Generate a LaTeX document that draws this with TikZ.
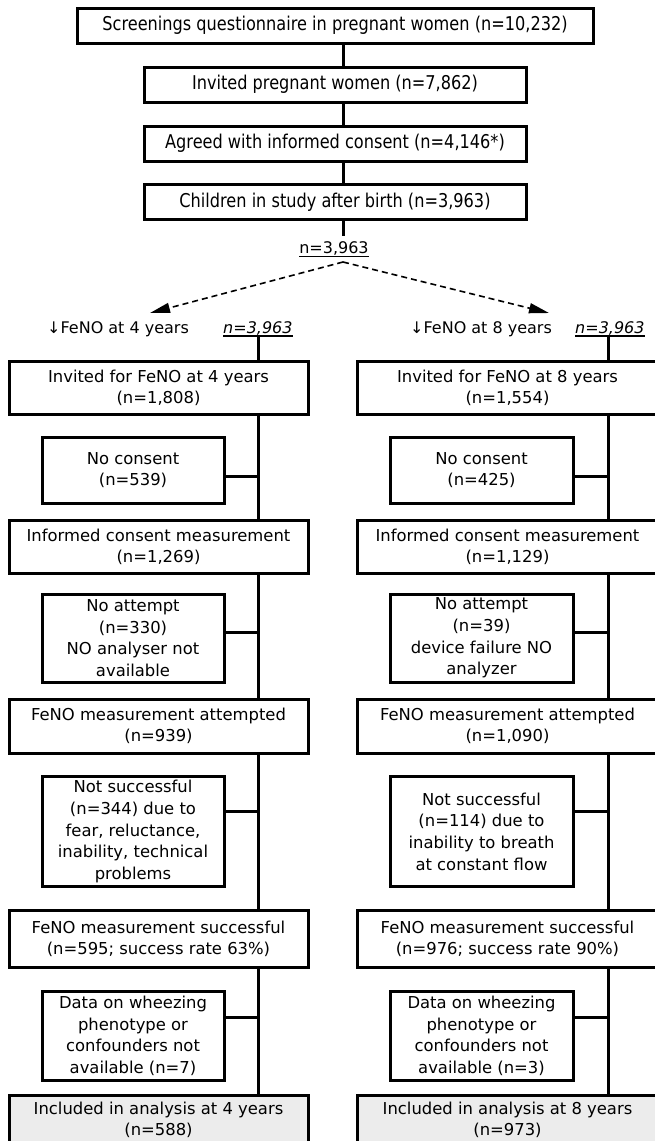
\documentclass[tikz,border=0pt]{standalone}
\usepackage{fontspec}
\setmainfont{DejaVu Sans}
\newfontfamily\condfont[FakeStretch=0.85]{DejaVu Sans}
\usetikzlibrary{arrows.meta,calc}
\definecolor{inclgray}{RGB}{236,236,236}
\begin{document}
\begin{tikzpicture}[x=1pt,y=-1pt,
  every node/.style={inner sep=0pt},
  topbox/.style={draw, line width=3pt, minimum height=35pt, font=\condfont\fontsize{19}{22}\selectfont},
  colbox/.style={draw, line width=3pt, align=center, font=\fontsize{16.4}{21.6}\selectfont},
  bigL/.style={colbox, minimum width=299pt},
  bigR/.style={colbox, minimum width=301pt},
  smallL/.style={colbox, minimum width=182pt},
  smallR/.style={colbox, minimum width=183pt},
  conn/.style={line width=3pt},
  uline/.style={line width=1.8pt},
  dasharrow/.style={line width=1.6pt, dash pattern=on 6pt off 4pt, -{Triangle[length=20pt,width=10pt]}},
  lbl/.style={font=\fontsize{16}{19}\selectfont, anchor=base west},
  lbli/.style={font=\itshape\fontsize{16}{19}\selectfont, anchor=base west},
]
\useasboundingbox (0,0) rectangle (655,1141);

\coordinate (M) at (343,0);
\coordinate (L) at (258,0);
\coordinate (R) at (608,0);

% top chain
\node[topbox, minimum width=516pt] (scr) at (335,25.5) {Screenings questionnaire in pregnant women (n=10,232)};
\node[topbox, minimum width=382pt] (invw) at (335,84.5) {Invited pregnant women (n=7,862)};
\node[topbox, minimum width=382pt] (agr) at (335,143.5) {Agreed with informed consent (n=4,146*)};
\node[topbox, minimum width=382pt] (chi) at (335,202) {Children in study after birth (n=3,963)};

\draw[conn] (scr.south -| M) -- (invw.north -| M);
\draw[conn] (invw.south -| M) -- (agr.north -| M);
\draw[conn] (agr.south -| M) -- (chi.north -| M);

\node[font=\fontsize{16}{19}\selectfont, anchor=base] (tot) at (334,253) {n=3,963};
\draw[uline] ($(tot.base west)+(0,3.5)$) -- ($(tot.base east)+(0,3.5)$);
\coordinate (totop) at ($(tot.north)+(0,-5)$);
\draw[conn] (chi.south -| M) -- (totop -| M);

\coordinate (apex) at (343,262);
\coordinate (tipL) at (150,313);
\coordinate (tipR) at (549,313);
\draw[dasharrow] (apex) -- (tipL);
\draw[dasharrow] (apex) -- (tipR);

% headers
\node[lbl] (h4) at (47,333) {↓FeNO at 4 years};
\node[lbli] (n4) at (223,333) {n=3,963};
\draw[uline] ($(n4.base west)+(0,3)$) -- ($(n4.base east)+(0,3)$);
\coordinate (u4) at ($(n4.base)+(0,3)$);

\node[lbl] (h8) at (410,333) {↓FeNO at 8 years};
\node[lbli] (n8) at (575,333) {n=3,963};
\draw[uline] ($(n8.base west)+(0,3)$) -- ($(n8.base east)+(0,3)$);
\coordinate (u8) at ($(n8.base)+(0,3)$);

% left column
\node[bigL, minimum height=53.5pt] (i4) at (158.5,387.75) {Invited for FeNO at 4 years\\(n=1,808)};
\node[smallL, minimum height=66pt] (nc4) at (133,470) {No consent\\(n=539)};
\node[bigL, minimum height=53.5pt] (c4) at (158.5,546.75) {Informed consent measurement\\(n=1,269)};
\node[smallL, minimum height=88pt] (na4) at (133,638) {No attempt\\(n=330)\\NO analyser not\\available};
\node[bigL, minimum height=54pt] (a4) at (158.5,726) {FeNO measurement attempted\\(n=939)};
\node[smallL, minimum height=110pt] (ns4) at (133,831.5) {Not successful\\(n=344) due to\\fear, reluctance,\\inability, technical\\problems};
\node[bigL, minimum height=57.5pt] (s4) at (158.5,938.75) {FeNO measurement successful\\(n=595; success rate 63\%)};
\node[smallL, minimum height=89pt] (d4) at (133,1036) {Data on wheezing\\phenotype or\\confounders not\\available (n=7)};
\node[bigL, minimum height=50pt, fill=inclgray] (f4) at (158.5,1120) {Included in analysis at 4 years\\(n=588)};

\draw[conn] (u4 -| L) -- (i4.north -| L);
\draw[conn] (i4.south -| L) -- (c4.north -| L);
\draw[conn] (c4.south -| L) -- (a4.north -| L);
\draw[conn] (a4.south -| L) -- (s4.north -| L);
\draw[conn] (s4.south -| L) -- (f4.north -| L);

\coordinate (k1) at ($(nc4.east)+(0,6)$);
\coordinate (k2) at ($(na4.east)+(0,-6)$);
\coordinate (k3) at ($(ns4.east)+(0,-20.5)$);
\coordinate (k4) at ($(d4.east)+(0,-19)$);
\draw[conn] (k1) -- (k1 -| L);
\draw[conn] (k2) -- (k2 -| L);
\draw[conn] (k3) -- (k3 -| L);
\draw[conn] (k4) -- (k4 -| L);

% right column
\node[bigR, minimum height=53.5pt] (i8) at (507.5,387.75) {Invited for FeNO at 8 years\\(n=1,554)};
\node[smallR, minimum height=66pt] (nc8) at (481.5,470) {No consent\\(n=425)};
\node[bigR, minimum height=53.5pt] (c8) at (507.5,546.75) {Informed consent measurement\\(n=1,129)};
\node[smallR, minimum height=88pt] (na8) at (481.5,638) {No attempt\\(n=39)\\device failure NO\\analyzer};
\node[bigR, minimum height=54pt] (a8) at (507.5,726) {FeNO measurement attempted\\(n=1,090)};
\node[smallR, minimum height=110pt] (ns8) at (481.5,831.5) {Not successful\\(n=114) due to\\inability to breath\\at constant flow};
\node[bigR, minimum height=57.5pt] (s8) at (507.5,938.75) {FeNO measurement successful\\(n=976; success rate 90\%)};
\node[smallR, minimum height=89pt] (d8) at (481.5,1036) {Data on wheezing\\phenotype or\\confounders not\\available (n=3)};
\node[bigR, minimum height=50pt, fill=inclgray] (f8) at (507.5,1120) {Included in analysis at 8 years\\(n=973)};

\draw[conn] (u8 -| R) -- (i8.north -| R);
\draw[conn] (i8.south -| R) -- (c8.north -| R);
\draw[conn] (c8.south -| R) -- (a8.north -| R);
\draw[conn] (a8.south -| R) -- (s8.north -| R);
\draw[conn] (s8.south -| R) -- (f8.north -| R);

\coordinate (m1) at ($(nc8.east)+(0,6)$);
\coordinate (m2) at ($(na8.east)+(0,-6)$);
\coordinate (m3) at ($(ns8.east)+(0,-20.5)$);
\coordinate (m4) at ($(d8.east)+(0,-19)$);
\draw[conn] (m1) -- (m1 -| R);
\draw[conn] (m2) -- (m2 -| R);
\draw[conn] (m3) -- (m3 -| R);
\draw[conn] (m4) -- (m4 -| R);
\end{tikzpicture}
\end{document}
